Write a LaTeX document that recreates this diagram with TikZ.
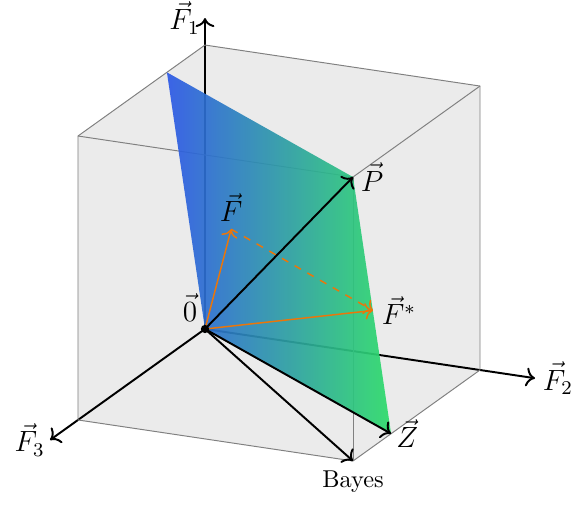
\documentclass[tikz,border=0pt]{standalone}
\usepackage{amsmath,amssymb}
\usepackage{xcolor}
\usepackage{tikz}
\usetikzlibrary{arrows.meta, positioning}

\definecolor{planeblue}{RGB}{45,88,230}
\definecolor{planegreen}{RGB}{45,220,105}
\definecolor{vecorange}{RGB}{235,118,10}

\begin{document}
\begin{tikzpicture}[
  x={(0cm,4.092cm)}, y={(3.963cm,-0.591cm)}, z={(-1.830cm,-1.311cm)},
  >={To[scale=1.1]},
  face/.style={fill=black!8, draw=none},
  edge/.style={draw=black!50, line width=0.4pt},
  axis/.style={->, thick},
  vec/.style={->, thick},
  fvec/.style={->, semithick, vecorange},
  lbl/.style={inner sep=2pt, font=\large},
]
\useasboundingbox (-2.954cm,-2.522cm) rectangle (5.505cm,4.741cm);

% cube corners (F1, F2, F3)
\coordinate (O) at (0,0,0);
\coordinate (c100) at (1,0,0);
\coordinate (c010) at (0,1,0);
\coordinate (c001) at (0,0,1);
\coordinate (c110) at (1,1,0);
\coordinate (c101) at (1,0,1);
\coordinate (c011) at (0,1,1);
\coordinate (P) at (1,1,1);

% plane points
\coordinate (A) at (1,0,0.3);
\coordinate (Z) at (0,1,0.7);

% vectors
\coordinate (F) at (0.52,0.28,0.4);
\coordinate (Fs) at (0.48,1,0.844);

% faces
\fill[face] (c100) -- (c110) -- (P) -- (c101) -- cycle;
\fill[face] (c010) -- (c110) -- (P) -- (c011) -- cycle;
\fill[face] (c001) -- (c101) -- (P) -- (c011) -- cycle;

% axes
\draw[axis] (O) -- (1.095,0,0) coordinate (e1);
\draw[axis] (O) -- (0,1.2,0) coordinate (e2);
\draw[axis] (O) -- (0,0,1.22) coordinate (e3);
\node[lbl, left=0pt of e1] (l1) {$\vec{F}_1$};
\node[lbl, right=1pt of e2] (l2) {$\vec{F}_2$};
\node[lbl, left=0pt of e3] (l3) {$\vec{F}_3$};

% cube edges
\draw[edge] (c101) -- (c100) -- (c110) -- (c010) -- (c011) -- (c001) -- cycle;
\draw[edge] (c101) -- (P) -- (c110);
\draw[edge] (P) -- (c011);

% plane
\shade[left color=planeblue, right color=planegreen, opacity=0.92]
  (O) -- (A) -- (P) -- (Z) -- cycle;

\draw[vec] (O) -- (P);
\draw[vec] (O) -- (Z);
\draw[vec] (O) -- (c011);
\draw[fvec] (O) -- (F);
\draw[fvec] (O) -- (Fs);
\draw[fvec, dashed] (F) -- (Fs);
\fill (O) circle (1.7pt);

\node[lbl, above left=1pt and 1pt of O] (l0) {$\vec{0}$};
\node[lbl, right=1pt of P] (lP) {$\vec{P}$};
\node[lbl, above=1pt of F] (lF) {$\vec{F}$};
\node[lbl, right=1.5pt of Fs] (lFs) {$\vec{F}^*$};
\node[lbl, right=0pt of Z] (lZ) {$\vec{Z}$};
\node[lbl, below=2pt of c011] (lB) {\normalsize Bayes};
\end{tikzpicture}
\end{document}
